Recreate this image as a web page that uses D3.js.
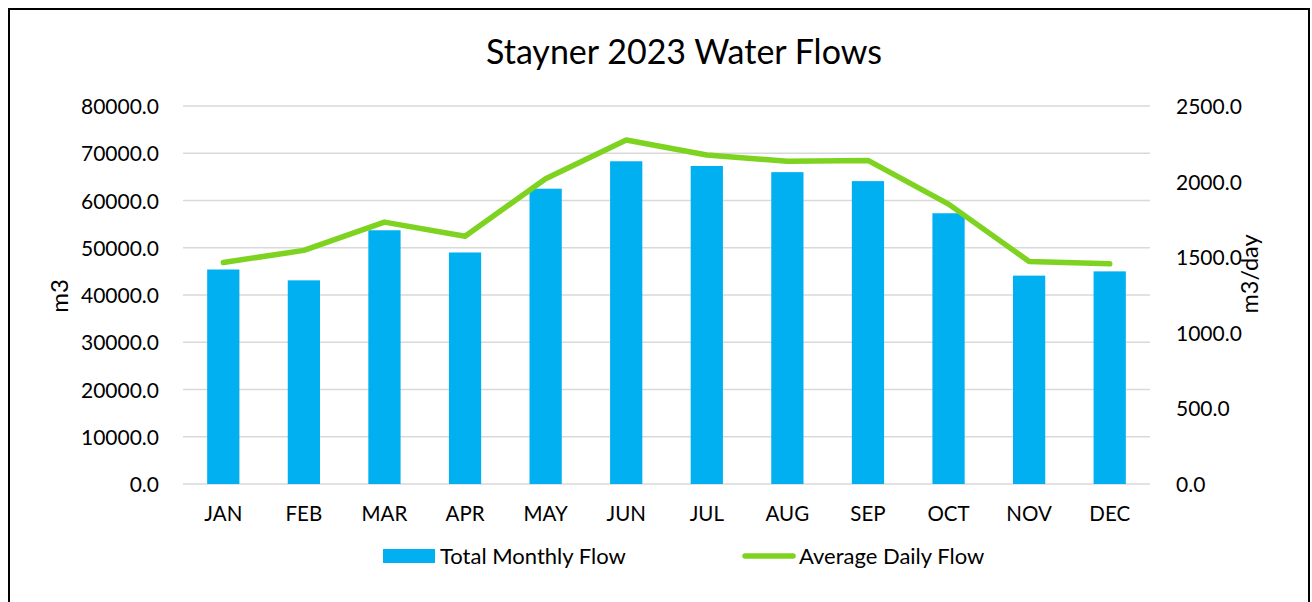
<!DOCTYPE html>
<html>
<head>
<meta charset="utf-8">
<script src="https://cdn.jsdelivr.net/npm/d3@7"></script>
<style>
  body { margin: 0; background: #fff; }
  text { font-family: Lato, "Open Sans", sans-serif; fill: #000; }
</style>
</head>
<body>
<div class="chart"></div>
<script>
var months = ["JAN", "FEB", "MAR", "APR", "MAY", "JUN", "JUL", "AUG", "SEP", "OCT", "NOV", "DEC"]
var totalMonthly = [45400, 43100, 53700, 49000, 62500, 68300, 67300, 66000, 64100, 57300, 44100, 45000]
var avgDaily = [1465, 1545, 1732, 1639, 2019, 2275, 2176, 2134, 2140, 1851, 1472, 1456]
var leftTicks = [0, 10000, 20000, 30000, 40000, 50000, 60000, 70000, 80000]
var rightTicks = [0, 500, 1000, 1500, 2000, 2500]

var width = 1312
var height = 602
var plotLeft = 183, plotRight = 1150, plotTop = 106, plotBottom = 484

var svg = d3.select(".chart").append("svg")
            .attr("width", width)
            .attr("height", height);

// frame
svg.append("path")
   .attr("d", "M9,610 L9,9 L1309,9 L1309,610")
   .attr("fill", "none")
   .attr("stroke", "#000")
   .attr("stroke-width", 2);

var x = d3.scaleBand().domain(months).range([plotLeft, plotRight]).paddingInner(0.6).paddingOuter(0.3);
var yLeft = d3.scaleLinear().domain([0, 80000]).range([plotBottom, plotTop]);
var yRight = d3.scaleLinear().domain([0, 2500]).range([plotBottom, plotTop]);

// gridlines
svg.selectAll(".grid")
   .data(leftTicks)
   .enter()
   .append("line")
   .attr("x1", plotLeft)
   .attr("x2", plotRight)
   .attr("y1", function(d) { return yLeft(d); })
   .attr("y2", function(d) { return yLeft(d); })
   .attr("stroke", "#d9d9d9")
   .attr("stroke-width", 1.5);

// left axis
var leftAxis = svg.append("g")
   .attr("transform", "translate(" + (plotLeft - 21) + ",0)")
   .call(d3.axisLeft(yLeft).tickValues(leftTicks).tickSize(0).tickFormat(d3.format(".1f")));
leftAxis.select(".domain").remove();
leftAxis.selectAll("text").style("font-size", "21px").attr("font-family", "Lato").attr("dy", "0.36em");

// right axis
var rightAxis = svg.append("g")
   .attr("transform", "translate(" + (plotRight + 23) + ",0)")
   .call(d3.axisRight(yRight).tickValues(rightTicks).tickSize(0).tickFormat(d3.format(".1f")));
rightAxis.select(".domain").remove();
rightAxis.selectAll("text").style("font-size", "21px").attr("font-family", "Lato").attr("dy", "0.36em");

// bottom axis
var bottomAxis = svg.append("g")
   .attr("transform", "translate(0," + plotBottom + ")")
   .call(d3.axisBottom(x).tickSize(0).tickPadding(22));
bottomAxis.select(".domain").remove();
bottomAxis.selectAll("text").style("font-size", "20.5px").attr("font-family", "Lato").attr("dy", "0.71em");

// bars
svg.selectAll(".bar")
   .data(totalMonthly)
   .enter()
   .append("rect")
   .attr("class", "bar")
   .attr("x", function(d, i) { return x(months[i]); })
   .attr("y", function(d) { return yLeft(d); })
   .attr("width", x.bandwidth())
   .attr("height", function(d) { return plotBottom - yLeft(d); })
   .attr("fill", "#00b0f0");

// line
var line = d3.line()
   .x(function(d, i) { return x(months[i]) + x.bandwidth() / 2; })
   .y(function(d) { return yRight(d); });

svg.append("path")
   .datum(avgDaily)
   .attr("d", line)
   .attr("fill", "none")
   .attr("stroke", "#7ed321")
   .attr("stroke-width", 5.5)
   .attr("stroke-linecap", "round")
   .attr("stroke-linejoin", "round");

// title
svg.append("text")
   .attr("x", 684)
   .attr("y", 64)
   .attr("text-anchor", "middle")
   .style("font-size", "34px")
   .text("Stayner 2023 Water Flows");

// axis titles
svg.append("text")
   .attr("transform", "translate(68,296) rotate(-90)")
   .attr("text-anchor", "middle")
   .style("font-size", "24px")
   .text("m3");

svg.append("text")
   .attr("transform", "translate(1258,274) rotate(-90)")
   .attr("text-anchor", "middle")
   .style("font-size", "23.5px")
   .text("m3/day");

// legend
svg.append("rect")
   .attr("x", 383)
   .attr("y", 549)
   .attr("width", 52)
   .attr("height", 14)
   .attr("fill", "#00b0f0");

svg.append("text")
   .attr("x", 440)
   .attr("y", 564)
   .style("font-size", "22px")
   .text("Total Monthly Flow");

svg.append("line")
   .attr("x1", 745)
   .attr("x2", 793)
   .attr("y1", 556)
   .attr("y2", 556)
   .attr("stroke", "#7ed321")
   .attr("stroke-width", 5.5)
   .attr("stroke-linecap", "round");

svg.append("text")
   .attr("x", 799)
   .attr("y", 564)
   .style("font-size", "22px")
   .text("Average Daily Flow");
</script>
</body>
</html>
